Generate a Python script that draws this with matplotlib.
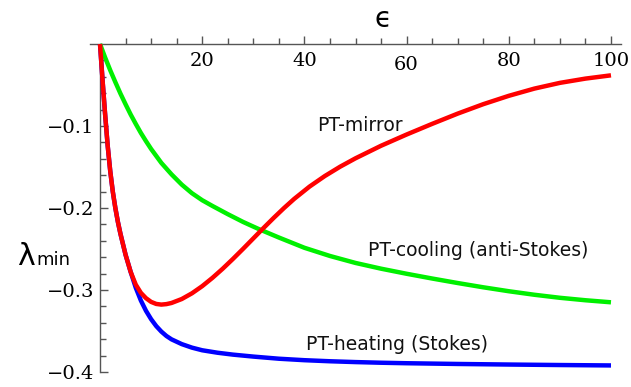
import matplotlib
matplotlib.use("Agg")
import matplotlib.pyplot as plt
from matplotlib.ticker import FixedLocator, FixedFormatter, NullFormatter

# ---- data ----
heat_x = [0, 0.5, 1, 1.5, 2, 2.5, 3, 3.5, 4, 5, 6, 7, 8, 9, 10, 11, 12, 13, 14, 16, 18, 20, 23, 26,
          30, 35, 40, 45, 50, 55, 60, 70, 80, 90, 100]
heat_y = [0, -0.0445, -0.086, -0.124, -0.155, -0.180, -0.200, -0.217, -0.2315, -0.257, -0.278,
          -0.2973, -0.3129, -0.3254, -0.3356, -0.3440, -0.3507, -0.3561, -0.3602, -0.3660, -0.3703,
          -0.3735, -0.3765, -0.3788, -0.3812, -0.3838, -0.3856, -0.3869, -0.3879, -0.3887, -0.3893,
          -0.3902, -0.3909, -0.3915, -0.3920]

cool_x = [0, 1, 2, 3, 4, 5, 6, 7, 8, 9, 10, 12, 14, 16, 18, 20, 22, 25, 28, 31, 35, 40, 45, 50,
          55, 60, 65, 70, 75, 80, 85, 90, 95, 100]
cool_y = [0, -0.0165, -0.032, -0.0465, -0.0605, -0.0735, -0.086, -0.0975, -0.1085, -0.1185, -0.128,
          -0.145, -0.159, -0.1715, -0.182, -0.1905, -0.1975, -0.2075, -0.2170, -0.2255, -0.2360,
          -0.2485, -0.2585, -0.2670, -0.2740, -0.2802, -0.2860, -0.2915, -0.2967, -0.3015, -0.3058,
          -0.3095, -0.3125, -0.3150]

mirror_x = [0, 0.5, 1, 1.5, 2, 2.5, 3, 3.5, 4, 5, 6, 7, 8, 9, 10, 11, 12, 13, 14, 16, 18, 20, 22,
            24, 26, 28, 30, 32, 34, 36, 38, 41, 44, 47, 50, 55, 60, 65, 70, 75, 80, 85, 90, 95, 100]
mirror_y = [0, -0.0445, -0.086, -0.124, -0.155, -0.180, -0.200, -0.217, -0.2315, -0.257, -0.278,
            -0.2935, -0.3035, -0.3100, -0.3145, -0.3170, -0.3178, -0.3172, -0.3158, -0.3110, -0.3040,
            -0.2953, -0.2852, -0.2741, -0.2622, -0.2498, -0.2371, -0.2244, -0.2120, -0.2001, -0.1889,
            -0.1739, -0.1610, -0.1496, -0.1394, -0.1241, -0.1104, -0.0974, -0.0849, -0.0734, -0.0632,
            -0.0544, -0.0474, -0.0422, -0.0382]

x_major = [20, 40, 60, 80, 100]
x_major_labels = ["20", "40", "60", "80", "100"]
x_minor = [5, 10, 15, 25, 30, 35, 45, 50, 55, 65, 70, 75, 85, 90, 95]
y_major = [-0.1, -0.2, -0.3, -0.4]
y_major_labels = ["\u22120.1", "\u22120.2", "\u22120.3", "\u22120.4"]
y_minor = [-0.02, -0.04, -0.06, -0.08, -0.12, -0.14, -0.16, -0.18, -0.22, -0.24, -0.26, -0.28,
           -0.32, -0.34, -0.36, -0.38]

labels = ["PT-mirror", "PT-cooling (anti-Stokes)", "PT-heating (Stokes)"]
label_pos = [(42.4, -0.099), (52.5, -0.252), (40.3, -0.366)]

# ---- figure ----
W, H = 631, 387
fig = plt.figure(figsize=(W / 100, H / 100), dpi=100)
ax = fig.add_axes([90 / W, 1 - 372 / H, 531 / W, 328 / H])
ax.set_xlim(-1.96, 101.96)
ax.set_ylim(-0.4, 0)
ax.patch.set_alpha(0)

axcol = "#555555"
for s in ["right", "bottom"]:
    ax.spines[s].set_visible(False)
ax.spines["left"].set_position(("data", 0))
for s in ["left", "top"]:
    ax.spines[s].set_color(axcol)
    ax.spines[s].set_linewidth(1.0)

ax.xaxis.set_ticks_position("top")
ax.xaxis.set_major_locator(FixedLocator(x_major))
ax.xaxis.set_minor_locator(FixedLocator(x_minor))
ax.tick_params(axis="x", which="both", direction="out", labeltop=False, labelbottom=False,
               color=axcol, width=1.0)
ax.tick_params(axis="x", which="major", length=6)
ax.tick_params(axis="x", which="minor", length=4)

ax.yaxis.set_ticks_position("left")
ax.yaxis.set_major_locator(FixedLocator(y_major))
ax.yaxis.set_major_formatter(FixedFormatter(y_major_labels))
ax.yaxis.set_minor_locator(FixedLocator(y_minor))
ax.yaxis.set_minor_formatter(NullFormatter())
ax.tick_params(axis="y", which="both", direction="in", color=axcol, width=1.0, pad=4.3,
               labelsize=14)
ax.tick_params(axis="y", which="major", length=6)
ax.tick_params(axis="y", which="minor", length=4)
for t in ax.get_yticklabels():
    t.set_family("DejaVu Serif")

# x tick labels below the axis line
for xv, lab in zip(x_major, x_major_labels):
    dy = -4 if lab == "60" else 0
    ax.annotate(lab, xy=(xv, 0), xycoords="data", xytext=(0, (-16.5 + dy) * 0.72),
                textcoords="offset points", ha="center", va="center",
                family="DejaVu Serif", fontsize=14, annotation_clip=False)

lw = 3.2
ax.plot(heat_x, heat_y, color="#0000ff", lw=lw, clip_on=False, solid_capstyle="butt",
        solid_joinstyle="round", zorder=3)
ax.plot(cool_x, cool_y, color="#00f000", lw=lw, clip_on=False, solid_capstyle="butt",
        solid_joinstyle="round", zorder=4)
ax.plot(mirror_x, mirror_y, color="#ff0000", lw=lw, clip_on=False, solid_capstyle="butt",
        solid_joinstyle="round", zorder=5)

for lab, (lx, ly) in zip(labels, label_pos):
    ax.text(lx, ly, lab, ha="left", va="center", fontsize=13.5, family="DejaVu Sans", color="#111111")

# axis labels
fig.text(383 / W, 1 - 19 / H, "\u03f5", ha="center", va="center", fontsize=20, family="DejaVu Sans")
fig.text(17 / W, 1 - 265 / H, "\u03bb", ha="left", va="baseline", fontsize=21.5, family="DejaVu Sans")
fig.text(36.5 / W, 1 - 265 / H, "min", ha="left", va="baseline", fontsize=13, family="DejaVu Sans")

fig.savefig("out.png", dpi=100)
